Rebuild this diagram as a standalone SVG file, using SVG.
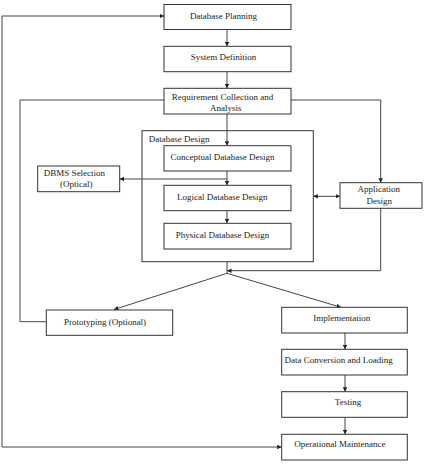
<svg xmlns="http://www.w3.org/2000/svg" width="424" height="470" viewBox="0 0 424 470">
<defs>
<marker id="ah" viewBox="0 0 10 10" refX="10" refY="5" markerWidth="4.5" markerHeight="4.5" orient="auto-start-reverse" markerUnits="userSpaceOnUse">
<path d="M0,0 L10,5 L0,10 z" fill="#222"/>
</marker>
<style>
.box{fill:#fff;stroke:#333;stroke-width:1}
.t{font-family:"Liberation Serif","Times New Roman",serif;font-size:9px;fill:#222}
.m{text-anchor:middle}
.c{fill:none;stroke:#444;stroke-width:1}
</style>
</defs>
<rect width="424" height="470" fill="#fff"/>
<g id="container">
<rect class="box" x="142" y="130.7" width="171.3" height="131"/>
<text class="t" x="148.7" y="142">Database Design</text>
</g>
<g id="connectors">
<line class="c" x1="227" y1="29.5" x2="227" y2="46.3" marker-end="url(#ah)"/>
<line class="c" x1="227" y1="71.7" x2="227" y2="88.3" marker-end="url(#ah)"/>
<line class="c" x1="227" y1="114" x2="227" y2="145.7" marker-end="url(#ah)"/>
<polyline class="c" points="227,171 227,179 119.7,179" marker-end="url(#ah)"/>
<line class="c" x1="227" y1="179" x2="227" y2="185.3" marker-end="url(#ah)"/>
<line class="c" x1="227" y1="210.7" x2="227" y2="223.3" marker-end="url(#ah)"/>
<polyline class="c" points="164,100 20,100 20,321.7 46.3,321.7"/>
<polyline class="c" points="291,100 380.7,100 380.7,182.7" marker-end="url(#ah)"/>
<line class="c" x1="313.3" y1="196.3" x2="340" y2="196.3" marker-start="url(#ah)" marker-end="url(#ah)"/>
<polyline class="c" points="380.7,208.3 380.7,270.7 227,270.7" marker-end="url(#ah)"/>
<line class="c" x1="227" y1="261.7" x2="227" y2="273.3"/>
<line class="c" x1="227" y1="273.3" x2="114" y2="309.5" marker-end="url(#ah)"/>
<line class="c" x1="227" y1="273.3" x2="341" y2="307.3" marker-end="url(#ah)"/>
<line class="c" x1="345" y1="333" x2="345" y2="349.3" marker-end="url(#ah)"/>
<line class="c" x1="345" y1="375" x2="345" y2="391.7" marker-end="url(#ah)"/>
<line class="c" x1="345" y1="417.3" x2="345" y2="434.3" marker-end="url(#ah)"/>
<polyline class="c" points="281.7,447 2,447 2,16 164,16" marker-start="url(#ah)" marker-end="url(#ah)"/>
</g>
<g id="database-planning">
<rect class="box" x="164" y="4.5" width="127" height="25"/>
<text class="t m" x="223.5" y="18.5">Database Planning</text>
</g>
<g id="system-definition">
<rect class="box" x="164" y="46.3" width="127" height="25.4"/>
<text class="t m" x="223.5" y="59.8">System Definition</text>
</g>
<g id="requirement">
<rect class="box" x="164" y="88.3" width="127" height="25.7"/>
<text class="t m" x="222.5" y="99.5">Requirement Collection and</text>
<text class="t m" x="225.7" y="110.5">Analysis</text>
</g>
<g id="conceptual">
<rect class="box" x="164" y="145.7" width="127" height="25.3"/>
<text class="t m" x="222.5" y="159.8">Conceptual Database Design</text>
</g>
<g id="logical">
<rect class="box" x="164" y="185.3" width="127" height="25.4"/>
<text class="t m" x="222.3" y="199.8">Logical Database Design</text>
</g>
<g id="physical">
<rect class="box" x="164" y="223.3" width="127" height="25.7"/>
<text class="t m" x="222.5" y="238">Physical Database Design</text>
</g>
<g id="dbms-selection">
<rect class="box" x="37.7" y="166" width="82" height="25.7"/>
<text class="t m" x="74.5" y="175.8">DBMS Selection</text>
<text class="t m" x="76.3" y="187.3">(Optical)</text>
</g>
<g id="application-design">
<rect class="box" x="340" y="182.7" width="82" height="25.6"/>
<text class="t m" x="378.7" y="192">Application</text>
<text class="t m" x="379.3" y="204">Design</text>
</g>
<g id="prototyping">
<rect class="box" x="46.3" y="310" width="126.4" height="25.3"/>
<text class="t m" x="105" y="325.3">Prototyping (Optional)</text>
</g>
<g id="implementation">
<rect class="box" x="281.7" y="307.3" width="125.6" height="25.7"/>
<text class="t m" x="341.7" y="321">Implementation</text>
</g>
<g id="data-conversion">
<rect class="box" x="281.7" y="349.3" width="125.6" height="25.7"/>
<text class="t m" x="338.7" y="363">Data Conversion and Loading</text>
</g>
<g id="testing">
<rect class="box" x="281.7" y="391.7" width="125.6" height="25.6"/>
<text class="t m" x="348" y="405.3">Testing</text>
</g>
<g id="operational-maintenance">
<rect class="box" x="281.7" y="434.3" width="125.6" height="25.7"/>
<text class="t m" x="339.8" y="447.3">Operational Maintenance</text>
</g>
</svg>
